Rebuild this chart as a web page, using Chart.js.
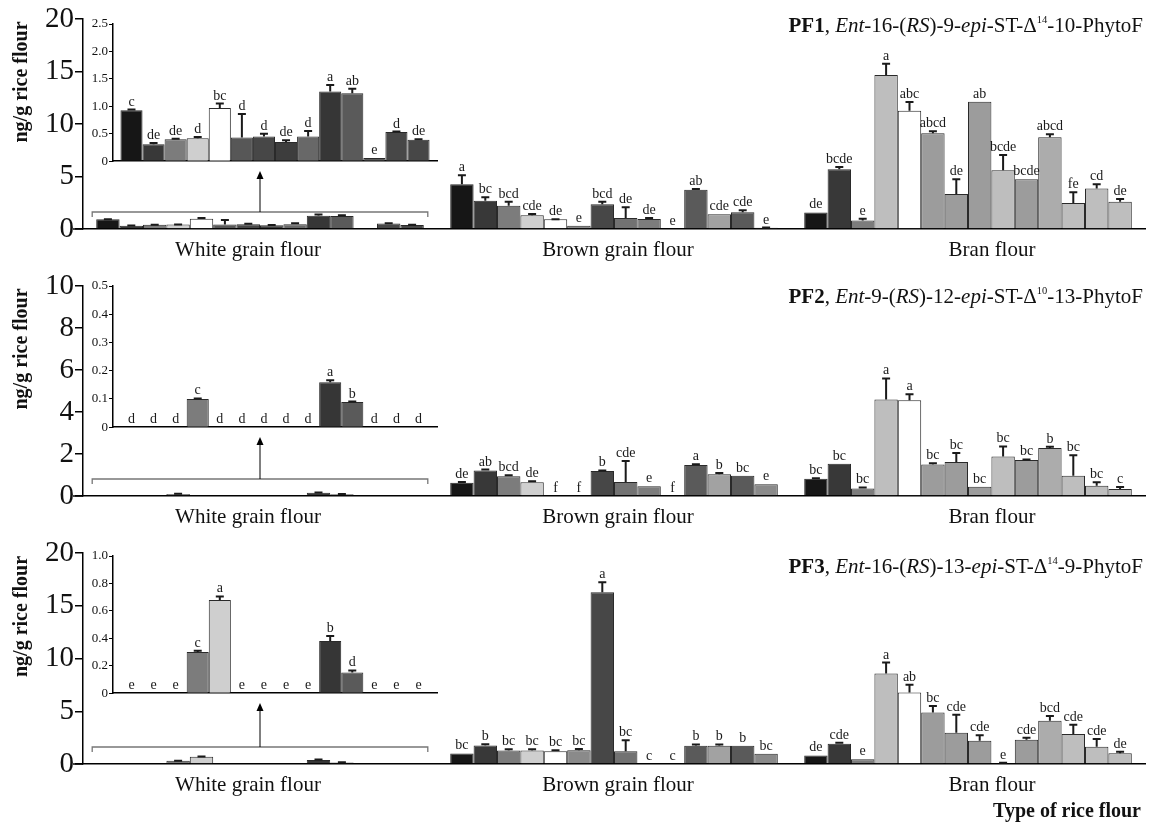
<!DOCTYPE html>
<html><head><meta charset="utf-8">
<script src="https://cdn.jsdelivr.net/npm/chart.js@4.4.0/dist/chart.umd.min.js"></script>
<style>
html,body{margin:0;padding:0;background:#fff;}
#wrap{position:relative;width:1152px;height:825px;overflow:hidden;background:#fff;}
canvas{position:absolute;}
</style></head><body><div id="wrap"></div>
<script>
// ---------- DATA ----------
const groups = ['White grain flour', 'Brown grain flour', 'Bran flour'];
const yTitle = 'ng/g rice flour';
const xTitle = 'Type of rice flour';

// PF1
const pf1White    = [0.93,0.31,0.40,0.42,0.97,0.43,0.45,0.35,0.45,1.27,1.24,0.06,0.53,0.39];
const pf1WhiteErr = [0.01,0.02,0.01,0.02,0.08,0.43,0.05,0.03,0.10,0.12,0.08,0.00,0.01,0.01];
const pf1WhiteSig = ['c','de','de','d','bc','d','d','de','d','a','ab','e','d','de'];
const pf1Brown    = [4.26,2.70,2.22,1.30,0.92,0.32,2.35,1.05,0.95,0,3.74,1.40,1.59,0.12];
const pf1BrownErr = [0.86,0.32,0.38,0.13,0.02,0,0.25,1.02,0.10,0,0.06,0,0.19,0.02];
const pf1BrownSig = ['a','bc','bcd','cde','de','e','bcd','de','de','e','ab','cde','cde','e'];
const pf1Bran     = [1.58,5.69,0.81,14.66,11.27,9.11,3.33,12.11,5.60,4.74,8.73,2.47,3.85,2.60];
const pf1BranErr  = [0,0.22,0.16,1.09,0.83,0.19,1.40,0,1.44,0,0.29,1.02,0.41,0.26];
const pf1BranSig  = ['de','bcde','e','a','abc','abcd','de','ab','bcde','bcde','abcd','fe','cd','de'];

// PF2
const pf2White    = [0,0,0,0.100,0,0,0,0,0,0.159,0.089,0,0,0];
const pf2WhiteErr = [0,0,0,0.002,0,0,0,0,0,0.007,0.002,0,0,0];
const pf2WhiteSig = ['d','d','d','c','d','d','d','d','d','a','b','d','d','d'];
const pf2Brown    = [0.63,1.21,0.94,0.65,0,0,1.19,0.67,0.46,0,1.48,1.03,0.97,0.56];
const pf2BrownErr = [0.04,0.05,0.05,0.05,0,0,0.03,1.00,0,0,0.03,0.06,0,0];
const pf2BrownSig = ['de','ab','bcd','de','f','f','b','cde','e','f','a','b','bc','e'];
const pf2Bran     = [0.82,1.53,0.36,4.60,4.56,1.50,1.62,0.44,1.88,1.71,2.29,0.97,0.49,0.33];
const pf2BranErr  = [0.03,0,0.05,1.00,0.29,0.06,0.43,0,0.48,0.03,0.06,0.97,0.16,0.10];
const pf2BranSig  = ['bc','bc','bc','a','a','bc','bc','bc','bc','bc','b','bc','bc','c'];

// PF3
const pf3White    = [0,0,0,0.30,0.68,0,0,0,0,0.38,0.15,0,0,0];
const pf3WhiteErr = [0,0,0,0.010,0.025,0,0,0,0,0.037,0.016,0,0,0];
const pf3WhiteSig = ['e','e','e','c','a','e','e','e','e','b','d','e','e','e'];
const pf3Brown    = [1.00,1.75,1.27,1.27,1.20,1.30,16.27,1.20,0,0,1.72,1.72,1.72,0.98];
const pf3BrownErr = [0,0.13,0.13,0.13,0.10,0.13,0.95,1.05,0,0,0.13,0.13,0,0];
const pf3BrownSig = ['bc','b','bc','bc','bc','bc','a','bc','c','c','b','b','b','bc'];
const pf3Bran     = [0.81,1.92,0.46,8.59,6.78,4.87,2.97,2.21,0.05,2.30,4.11,2.84,1.64,1.03];
const pf3BranErr  = [0,0.10,0,1.02,0.73,0.63,1.71,0.51,0.08,0.19,0.44,0.89,0.73,0.13];
const pf3BranSig  = ['de','cde','e','a','ab','bc','cde','cde','e','cde','bcd','cde','cde','de'];

// Axis ticks
const mainMax  = [20, 10, 20];
const mainStep = [5, 2, 5];
const insetMax  = [2.5, 0.5, 1.0];
const insetStep = [0.5, 0.1, 0.2];

// Titles (text segments: b = bold, i = italic, s = superscript)
const pf1Title = [['PF1','b'],[', ',''],['Ent','i'],['-16-(',''],['RS','i'],[')-9-',''],['epi','i'],['-ST-\u0394',''],['14','s'],['-10-PhytoF','']];
const pf2Title = [['PF2','b'],[', ',''],['Ent','i'],['-9-(',''],['RS','i'],[')-12-',''],['epi','i'],['-ST-\u0394',''],['10','s'],['-13-PhytoF','']];
const pf3Title = [['PF3','b'],[', ',''],['Ent','i'],['-16-(',''],['RS','i'],[')-13-',''],['epi','i'],['-ST-\u0394',''],['14','s'],['-9-PhytoF','']];

// Styles
const whiteColorsPF1 = ['#161616','#383838','#7c7c7c','#cfcfcf','#ffffff','#575757','#474747','#3d3d3d','#686868','#363636','#5a5a5a','#5a5a5a','#474747','#474747'];
const whiteColorsPF23 = ['#161616','#383838','#7c7c7c','#7c7c7c','#cfcfcf','#575757','#474747','#3d3d3d','#686868','#363636','#5a5a5a','#5a5a5a','#474747','#474747'];
const brownColors = ['#161616','#383838','#7c7c7c','#cfcfcf','#ffffff','#8a8a8a','#474747','#727272','#7c7c7c','#7c7c7c','#5a5a5a','#a2a2a2','#5a5a5a','#8a8a8a'];
const branColors  = ['#161616','#383838','#7c7c7c','#bebebe','#ffffff','#9c9c9c','#9c9c9c','#9c9c9c','#bebebe','#9c9c9c','#acacac','#bebebe','#bebebe','#bebebe'];

const FAMILY = "'Liberation Serif','Times New Roman',serif";

// ---------- LAYOUT ----------
const layout = [
  {top: 0,   height: 265, padBottom: 0,  insetTop: 24,  insetBottom: 166, titleBase: 32},
  {top: 267, height: 265, padBottom: 0,  insetTop: 286, insetBottom: 432, titleBase: 36},
  {top: 534, height: 291, padBottom: 25, insetTop: 556, insetBottom: 698, titleBase: 39}
];
const groupLabelShift = [-12, 4, 24];   // horizontal nudge of group labels (px)

const panelData = [
  {w: pf1White, we: pf1WhiteErr, ws: pf1WhiteSig, b: pf1Brown, be: pf1BrownErr, bs: pf1BrownSig, r: pf1Bran, re: pf1BranErr, rs: pf1BranSig, title: pf1Title, wc: whiteColorsPF1},
  {w: pf2White, we: pf2WhiteErr, ws: pf2WhiteSig, b: pf2Brown, be: pf2BrownErr, bs: pf2BrownSig, r: pf2Bran, re: pf2BranErr, rs: pf2BranSig, title: pf2Title, wc: whiteColorsPF23},
  {w: pf3White, we: pf3WhiteErr, ws: pf3WhiteSig, b: pf3Brown, be: pf3BrownErr, bs: pf3BrownSig, r: pf3Bran, re: pf3BranErr, rs: pf3BranSig, title: pf3Title, wc: whiteColorsPF23}
];

// ---------- HELPERS ----------
function drawErrAndSig(chart) {
  const ctx = chart.ctx, y = chart.scales.y;
  ctx.save();
  chart.data.datasets.forEach((ds, di) => {
    const meta = chart.getDatasetMeta(di);
    meta.data.forEach((el, gi) => {
      const v = ds.data[gi] || 0, e = ds.errs[gi] || 0;
      const top = y.getPixelForValue(v);
      let tip = top;
      if (e > 0) {
        const ey = y.getPixelForValue(v + e);
        ctx.strokeStyle = '#1a1a1a'; ctx.lineWidth = 2;
        ctx.beginPath();
        ctx.moveTo(el.x, top); ctx.lineTo(el.x, ey);
        ctx.moveTo(el.x - 4, ey); ctx.lineTo(el.x + 4, ey);
        ctx.stroke();
        tip = ey;
      }
      if (ds.sigShow[gi]) {
        ctx.fillStyle = '#1a1a1a';
        ctx.font = '14px ' + FAMILY;
        ctx.textAlign = 'center'; ctx.textBaseline = 'alphabetic';
        ctx.fillText(ds.sigs[gi], el.x, tip - 4);
      }
    });
  });
  ctx.restore();
}

function drawTitle(ctx, segs, rightX, baseY, size) {
  let total = 0;
  const parts = segs.map(([t, st]) => {
    const fs = st === 's' ? size * 0.5 : size;
    const font = (st === 'i' ? 'italic ' : '') + (st === 'b' ? 'bold ' : '') + fs + 'px ' + FAMILY;
    ctx.font = font;
    const w = ctx.measureText(t).width;
    total += w;
    return {t, font, w, dy: st === 's' ? -size * 0.45 : 0};
  });
  let x = rightX - total;
  ctx.textAlign = 'left'; ctx.textBaseline = 'alphabetic'; ctx.fillStyle = '#111';
  parts.forEach(p => { ctx.font = p.font; ctx.fillText(p.t, x, baseY + p.dy); x += p.w; });
}

const mainDecor = {
  id: 'mainDecor',
  afterDatasetsDraw(chart, args, o) {
    drawErrAndSig(chart);
    const ctx = chart.ctx, ca = chart.chartArea, xs = chart.scales.x;
    ctx.save();
    // x axis extension to the left of y axis
    ctx.strokeStyle = '#000'; ctx.lineWidth = 1.5;
    ctx.beginPath(); ctx.moveTo(ca.left - 10, ca.bottom); ctx.lineTo(ca.left, ca.bottom); ctx.stroke();
    // group labels
    ctx.font = '21px ' + FAMILY; ctx.fillStyle = '#111';
    ctx.textAlign = 'center'; ctx.textBaseline = 'alphabetic';
    chart.data.labels.forEach((lab, i) => {
      ctx.fillText(lab, xs.getPixelForValue(i) + groupLabelShift[i], ca.bottom + 27);
    });
    // bracket over white grain group
    const first = chart.getDatasetMeta(0).data[0];
    const last = chart.getDatasetMeta(chart.data.datasets.length - 1).data[0];
    const bl = first.x - first.width / 2 - 4, br = last.x + last.width / 2 + 4;
    const by = ca.bottom - 17;
    ctx.strokeStyle = '#777'; ctx.lineWidth = 1.3;
    ctx.beginPath();
    ctx.moveTo(bl, by + 5); ctx.lineTo(bl, by); ctx.lineTo(br, by); ctx.lineTo(br, by + 5);
    ctx.stroke();
    // arrow up to inset
    const ax = (bl + br) / 2, ay = o.arrowTop;
    ctx.strokeStyle = '#000'; ctx.lineWidth = 1;
    ctx.beginPath(); ctx.moveTo(ax, by); ctx.lineTo(ax, ay + 6); ctx.stroke();
    ctx.fillStyle = '#000';
    ctx.beginPath(); ctx.moveTo(ax, ay); ctx.lineTo(ax - 3.5, ay + 8); ctx.lineTo(ax + 3.5, ay + 8); ctx.closePath(); ctx.fill();
    // title
    drawTitle(ctx, o.title, 1143, o.titleBase, 21);
    // y title
    ctx.save();
    ctx.translate(22, (ca.top + ca.bottom) / 2 - 42);
    ctx.rotate(-Math.PI / 2);
    ctx.font = 'bold 20px ' + FAMILY; ctx.fillStyle = '#111';
    ctx.textAlign = 'center'; ctx.textBaseline = 'middle';
    ctx.fillText(yTitle, 0, 0);
    ctx.restore();
    if (o.xTitle) {
      ctx.font = 'bold 20px ' + FAMILY; ctx.fillStyle = '#111';
      ctx.textAlign = 'right'; ctx.textBaseline = 'alphabetic';
      ctx.fillText(o.xTitle, 1141, o.xTitleBase);
    }
    ctx.restore();
  }
};

const insetDecor = { id: 'insetDecor', afterDatasetsDraw(chart) { drawErrAndSig(chart); } };

function makeCanvas(left, top, w, h) {
  const c = document.createElement('canvas');
  c.width = w; c.height = h;
  c.style.left = left + 'px'; c.style.top = top + 'px';
  c.style.width = w + 'px'; c.style.height = h + 'px';
  document.getElementById('wrap').appendChild(c);
  return c;
}

Chart.defaults.font.family = FAMILY;
Chart.defaults.color = '#111';

// ---------- BUILD ----------
layout.forEach((L, p) => {
  const D = panelData[p];
  // main chart
  const datasets = [];
  for (let i = 0; i < D.w.length; i++) {
    datasets.push({
      data: [D.w[i], D.b[i], D.r[i]],
      errs: [D.we[i], D.be[i], D.re[i]],
      sigs: [D.ws[i], D.bs[i], D.rs[i]],
      sigShow: [false, true, true],
      backgroundColor: [D.wc[i], brownColors[i], branColors[i]],
      borderColor: '#2a2a2a', borderWidth: 1,
      categoryPercentage: 0.9254, barPercentage: 1
    });
  }
  const c1 = makeCanvas(0, L.top, 1152, L.height);
  new Chart(c1, {
    type: 'bar',
    data: {labels: groups, datasets},
    options: {
      responsive: false, animation: false, devicePixelRatio: 1,
      layout: {padding: {top: 19, right: 7, bottom: L.padBottom, left: 0}},
      plugins: {legend: {display: false}, tooltip: {enabled: false},
        mainDecor: {arrowTop: L.insetBottom + 5 - L.top, title: D.title, titleBase: L.titleBase,
                    xTitle: p === 2 ? xTitle : null, xTitleBase: 817 - L.top}},
      scales: {
        x: {grid: {display: false, drawTicks: false}, border: {display: true, color: '#000', width: 1.5},
            ticks: {display: false},
            afterFit: s => { s.height = 36; }},
        y: {min: 0, max: mainMax[p], ticks: {stepSize: mainStep[p], font: {size: 29}, color: '#111', padding: 1},
            grid: {drawOnChartArea: false, drawTicks: true, tickLength: 8, color: '#000', lineWidth: 1.5},
            border: {display: true, color: '#000', width: 1.5},
            afterFit: s => { s.width = 83; }}
      }
    },
    plugins: [mainDecor]
  });

  // inset chart
  const insetSets = D.w.map((v, i) => ({
    data: [v], errs: [D.we[i]], sigs: [D.ws[i]], sigShow: [true],
    backgroundColor: D.wc[i], borderColor: '#2a2a2a', borderWidth: 1,
    categoryPercentage: 0.954, barPercentage: 1
  }));
  const ih = L.insetBottom - L.insetTop + 16;
  const c2 = makeCanvas(50, L.insetTop - 12, 391, ih);
  new Chart(c2, {
    type: 'bar',
    data: {labels: [''], datasets: insetSets},
    options: {
      responsive: false, animation: false, devicePixelRatio: 1,
      layout: {padding: {top: 12, right: 4, bottom: 4, left: 0}},
      plugins: {legend: {display: false}, tooltip: {enabled: false}},
      scales: {
        x: {grid: {display: false, drawTicks: false}, ticks: {display: false},
            border: {display: true, color: '#000', width: 1.5},
            afterFit: s => { s.height = 0; }},
        y: {min: 0, max: insetMax[p],
            ticks: {stepSize: insetStep[p], font: {size: 13}, color: '#111', padding: 1,
                    callback: v => v === 0 ? '0' : Number(v).toFixed(1)},
            grid: {drawOnChartArea: false, drawTicks: true, tickLength: 4, color: '#000', lineWidth: 1},
            border: {display: true, color: '#000', width: 1.5},
            afterFit: s => { s.width = 63; }}
      }
    },
    plugins: [insetDecor]
  });
});
</script></body></html>
